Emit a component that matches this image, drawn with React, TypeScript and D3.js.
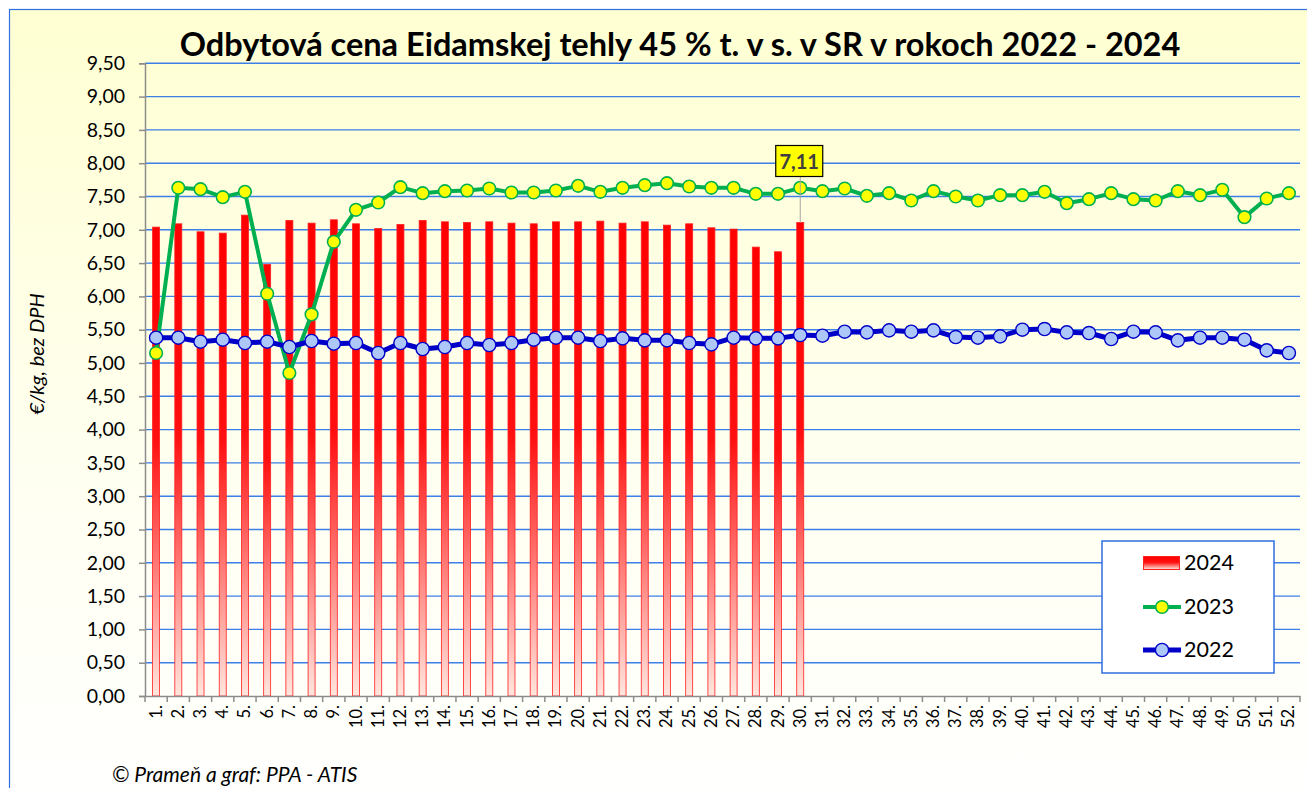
import React, { useEffect, useRef } from 'react'
import * as d3 from 'd3'

const weeks = d3.range(1, 53).map(i => `${i}.`)

const values2024 = [7.04, 7.09, 6.97, 6.95, 7.22, 6.48, 7.14, 7.10, 7.15, 7.09, 7.02, 7.08, 7.14, 7.12, 7.11,
  7.12, 7.10, 7.09, 7.12, 7.12, 7.13, 7.10, 7.12, 7.07, 7.09, 7.03, 7.01, 6.74, 6.67, 7.11]

const values2023 = [5.15, 7.63, 7.61, 7.49, 7.57, 6.04, 4.85, 5.73, 6.82, 7.30, 7.41, 7.64, 7.55, 7.58, 7.59,
  7.62, 7.56, 7.56, 7.59, 7.66, 7.57, 7.63, 7.67, 7.70, 7.65, 7.63, 7.63, 7.54, 7.54, 7.63,
  7.58, 7.62, 7.51, 7.55, 7.44, 7.58, 7.50, 7.44, 7.52, 7.52, 7.57, 7.40, 7.46, 7.55, 7.46,
  7.44, 7.58, 7.52, 7.60, 7.19, 7.47, 7.55]

const values2022 = [5.38, 5.38, 5.32, 5.35, 5.30, 5.32, 5.24, 5.33, 5.29, 5.30, 5.15, 5.30, 5.21, 5.24, 5.30,
  5.27, 5.30, 5.35, 5.38, 5.38, 5.33, 5.37, 5.34, 5.34, 5.30, 5.28, 5.38, 5.37, 5.37, 5.42,
  5.41, 5.47, 5.46, 5.49, 5.47, 5.49, 5.39, 5.38, 5.40, 5.50, 5.51, 5.46, 5.45, 5.36, 5.47,
  5.46, 5.34, 5.38, 5.38, 5.35, 5.19, 5.15]

const yTicks = d3.range(0, 20).map(i => i * 0.5)

const FONT = 'Lato, "Open Sans", "DejaVu Sans", sans-serif'
const fmt = (v: number) => d3.format('.2f')(v).replace('.', ',')

function App() {
  const svgRef = useRef<SVGSVGElement>(null)

  useEffect(() => {
    const w = 1307
    const h = 788
    const svg = d3.select(svgRef.current)
    svg.selectAll('*').remove()

    const left = 145, right = 1300, top = 63.3, bottom = 696

    const defs = svg.append('defs')
    const bg = defs.append('linearGradient').attr('id', 'bgGrad')
      .attr('x1', 0).attr('y1', 0).attr('x2', 0).attr('y2', 1)
    bg.append('stop').attr('offset', '0%').attr('stop-color', '#ffffd2')
    bg.append('stop').attr('offset', '55%').attr('stop-color', '#fffff0')
    bg.append('stop').attr('offset', '100%').attr('stop-color', '#ffffff')

    const barGrad = defs.append('linearGradient').attr('id', 'barGrad')
      .attr('x1', 0).attr('y1', 0).attr('x2', 0).attr('y2', 1)
    barGrad.append('stop').attr('offset', '0%').attr('stop-color', '#ff0000')
    barGrad.append('stop').attr('offset', '45%').attr('stop-color', '#ff1010')
    barGrad.append('stop').attr('offset', '100%').attr('stop-color', '#ffe6de')

    // background + outer frame
    svg.append('rect')
      .attr('x', 9.5).attr('y', 9.5)
      .attr('width', w + 20).attr('height', h + 20)
      .attr('fill', 'url(#bgGrad)')
      .attr('stroke', '#2f6fe0').attr('stroke-width', 1.2)

    const x = d3.scaleBand().domain(weeks).range([left, right])
    const y = d3.scaleLinear().domain([0, 9.5]).range([bottom, top])

    // gridlines
    svg.append('g').selectAll('line')
      .data(yTicks.slice(1))
      .join('line')
      .attr('x1', left).attr('x2', right)
      .attr('y1', d => y(d)).attr('y2', d => y(d))
      .attr('stroke', '#3c7fe6').attr('stroke-width', 1.4)

    // y axis
    const yAxis = d3.axisLeft(y).tickValues(yTicks).tickFormat(d => fmt(d as number)).tickSize(6).tickPadding(14)
    const gy = svg.append('g').attr('transform', `translate(${left},0)`).call(yAxis)
    gy.select('.domain').attr('stroke', '#8c8c8c').attr('stroke-width', 1.5)
    gy.selectAll('.tick line').attr('stroke', '#8c8c8c').attr('stroke-width', 1.5)
    gy.selectAll('.tick text').attr('font-family', FONT).attr('font-size', 19.5).attr('fill', '#000')

    // bars 2024
    const bw = 7
    svg.append('g').selectAll('rect')
      .data(values2024)
      .join('rect')
      .attr('x', (d, i) => x(weeks[i])! + x.bandwidth() / 2 - bw / 2)
      .attr('y', d => y(d))
      .attr('width', bw)
      .attr('height', d => y(0) - y(d))
      .attr('fill', 'url(#barGrad)')
      .attr('stroke', '#ff2020').attr('stroke-width', 0.8)

    // x axis
    const xAxis = d3.axisBottom(x).tickSizeOuter(0).tickSize(0).tickFormat(() => '')
    const gx = svg.append('g').attr('transform', `translate(0,${bottom})`).call(xAxis)
    gx.select('.domain').attr('stroke', '#8c8c8c').attr('stroke-width', 1.5)
    svg.append('g').selectAll('line')
      .data(weeks.concat(['end']))
      .join('line')
      .attr('x1', (d, i) => left + i * x.step()).attr('x2', (d, i) => left + i * x.step())
      .attr('y1', bottom).attr('y2', bottom + 6)
      .attr('stroke', '#8c8c8c').attr('stroke-width', 1.5)
    svg.append('g').selectAll('text')
      .data(weeks)
      .join('text')
      .attr('transform', d => `translate(${x(d)! + x.bandwidth() / 2 + 5.5},${bottom + 9}) rotate(-90)`)
      .attr('text-anchor', 'end')
      .attr('font-family', FONT).attr('font-size', 16.5)
      .text(d => d)

    const cx = (i: number) => x(weeks[i])! + x.bandwidth() / 2
    const line = d3.line<number>().x((d, i) => cx(i)).y(d => y(d))

    // 2023
    svg.append('path').datum(values2023)
      .attr('d', line).attr('fill', 'none')
      .attr('stroke', '#00b050').attr('stroke-width', 4).attr('stroke-linejoin', 'round')
    svg.append('g').selectAll('circle')
      .data(values2023).join('circle')
      .attr('cx', (d, i) => cx(i)).attr('cy', d => y(d)).attr('r', 6.3)
      .attr('fill', '#ffff00').attr('stroke', '#00b050').attr('stroke-width', 1.6)

    // 2022
    svg.append('path').datum(values2022)
      .attr('d', line).attr('fill', 'none')
      .attr('stroke', '#0000c8').attr('stroke-width', 5).attr('stroke-linejoin', 'round')
    svg.append('g').selectAll('circle')
      .data(values2022).join('circle')
      .attr('cx', (d, i) => cx(i)).attr('cy', d => y(d)).attr('r', 6.6)
      .attr('fill', '#adc8f8').attr('stroke', '#0000c8').attr('stroke-width', 1.4)

    // callout for last 2024 value
    const lastI = values2024.length - 1
    const lx = cx(lastI)
    svg.append('line')
      .attr('x1', lx).attr('x2', lx)
      .attr('y1', 177).attr('y2', y(values2024[lastI]))
      .attr('stroke', '#a6a6a6').attr('stroke-width', 1)
    svg.append('rect')
      .attr('x', lx - 24.5).attr('y', 145.5).attr('width', 47).attr('height', 31)
      .attr('fill', '#ffff00').attr('stroke', '#000').attr('stroke-width', 1.2)
    svg.append('text')
      .attr('x', lx - 1).attr('y', 168.5)
      .attr('text-anchor', 'middle')
      .attr('font-family', FONT).attr('font-weight', 700).attr('font-size', 20)
      .attr('fill', '#404040')
      .text(fmt(values2024[lastI]))

    // title
    svg.append('text')
      .attr('x', 680).attr('y', 56)
      .attr('text-anchor', 'middle')
      .attr('font-family', FONT).attr('font-weight', 700).attr('font-size', 32.5)
      .text('Odbytová cena Eidamskej tehly 45 % t. v s. v SR v rokoch 2022 - 2024')

    // y label
    svg.append('text')
      .attr('transform', 'translate(44,354) rotate(-90)')
      .attr('text-anchor', 'middle')
      .attr('font-family', FONT).attr('font-style', 'italic').attr('font-size', 20)
      .text('€/kg, bez DPH')

    // footer
    svg.append('text')
      .attr('x', 112).attr('y', 782)
      .attr('font-family', FONT).attr('font-style', 'italic').attr('font-size', 21)
      .text('© Prameň a graf: PPA - ATIS')

    // legend
    const lg = svg.append('g')
    lg.append('rect')
      .attr('x', 1102).attr('y', 541).attr('width', 172).attr('height', 132)
      .attr('fill', '#fff').attr('stroke', '#2f6fe0').attr('stroke-width', 1.5)
    lg.append('rect')
      .attr('x', 1143.5).attr('y', 556.5).attr('width', 36).attr('height', 13)
      .attr('fill', 'url(#barGrad)').attr('stroke', '#ff2020').attr('stroke-width', 1)
    lg.append('line').attr('x1', 1143).attr('x2', 1181).attr('y1', 607).attr('y2', 607)
      .attr('stroke', '#00b050').attr('stroke-width', 4)
    lg.append('circle').attr('cx', 1162).attr('cy', 607).attr('r', 6.3)
      .attr('fill', '#ffff00').attr('stroke', '#00b050').attr('stroke-width', 1.6)
    lg.append('line').attr('x1', 1143).attr('x2', 1181).attr('y1', 650).attr('y2', 650)
      .attr('stroke', '#0000c8').attr('stroke-width', 5)
    lg.append('circle').attr('cx', 1162).attr('cy', 650).attr('r', 6.6)
      .attr('fill', '#adc8f8').attr('stroke', '#0000c8').attr('stroke-width', 1.4)
    const labels = ['2024', '2023', '2022']
    lg.selectAll('text.lab')
      .data(labels).join('text')
      .attr('class', 'lab')
      .attr('x', 1184).attr('y', (d, i) => [570, 614, 657][i])
      .attr('font-family', FONT).attr('font-size', 21.5)
      .text(d => d)
  }, [])

  return (
    <svg ref={svgRef} width={1307} height={788} style={{ position: 'absolute', left: 0, top: 0 }} />
  )
}

export default App
